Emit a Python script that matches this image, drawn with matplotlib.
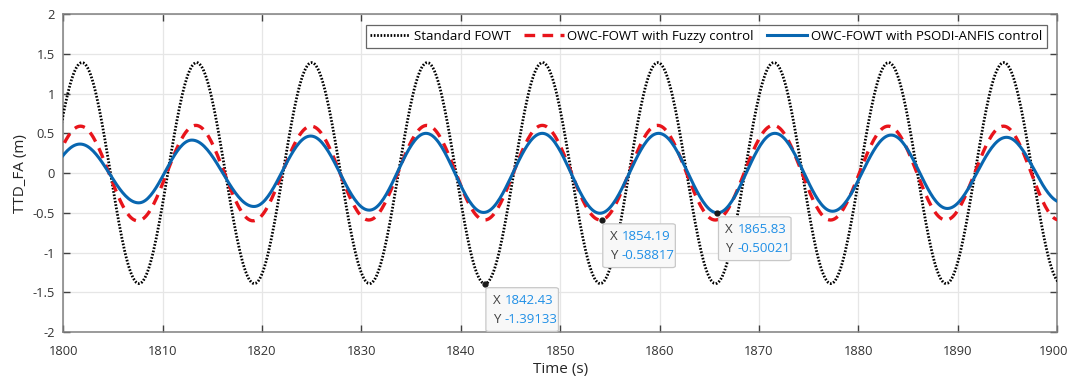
import numpy as np
import matplotlib
matplotlib.use("Agg")
import matplotlib.pyplot as plt
import matplotlib.transforms as mtransforms
from matplotlib.patches import FancyBboxPatch

# Extrema (time, value): troughs and peaks alternate
std_t = [1796.03, 1801.9, 1807.63, 1813.43, 1819.23, 1825.0, 1830.83, 1836.63, 1842.43,
         1848.23, 1854.03, 1859.83, 1865.63, 1871.5, 1877.23, 1883.05, 1888.83, 1894.63, 1900.43]
std_v = [-1.39, 1.39, -1.39, 1.39, -1.39, 1.39, -1.39, 1.39, -1.39133,
         1.39, -1.39, 1.39, -1.39, 1.39, -1.39, 1.39, -1.39, 1.39, -1.39]

fuz_t = [1795.9, 1801.75, 1807.5, 1813.35, 1819.1, 1824.95, 1830.75, 1836.6, 1842.4,
         1848.2, 1854.05, 1859.8, 1865.6, 1871.45, 1877.2, 1883.0, 1888.8, 1894.6, 1900.2]
fuz_v = [-0.59, 0.59, -0.60, 0.60, -0.60, 0.59, -0.59, 0.60, -0.59,
         0.60, -0.59, 0.60, -0.59, 0.60, -0.59, 0.59, -0.59, 0.59, -0.59]

pso_t = [1796.0, 1801.7, 1807.6, 1812.95, 1819.2, 1824.9, 1830.8, 1836.5, 1842.3,
         1848.2, 1854.0, 1859.9, 1865.83, 1871.6, 1877.4, 1883.3, 1888.95, 1894.9, 1900.5]
pso_v = [-0.33, 0.365, -0.374, 0.415, -0.42, 0.466, -0.466, 0.50, -0.495,
         0.50, -0.505, 0.50, -0.50021, 0.50, -0.48, 0.478, -0.445, 0.45, -0.37]

labels = ["Standard FOWT", "OWC-FOWT with Fuzzy control", "OWC-FOWT with PSODI-ANFIS control"]

tips = [(1842.43, -1.39133), (1854.19, -0.58817), (1865.83, -0.50021)]

x_ticks = list(range(1800, 1901, 10))
y_ticks = [2, 1.5, 1, 0.5, 0, -0.5, -1, -1.5, -2]
y_ticklabels = ["2", "1.5", "1", "0.5", "0", "-0.5", "-1", "-1.5", "-2"]


def curve(ts, vs, n=40):
    xs, ys = [], []
    for i in range(len(ts) - 1):
        t0, t1, v0, v1 = ts[i], ts[i + 1], vs[i], vs[i + 1]
        s = np.linspace(0, 1, n, endpoint=False)
        xs.append(t0 + s * (t1 - t0))
        ys.append((v0 + v1) / 2 + (v0 - v1) / 2 * np.cos(np.pi * s))
    xs.append([ts[-1]])
    ys.append([vs[-1]])
    return np.concatenate(xs), np.concatenate(ys)


plt.rcParams['font.family'] = ['Open Sans', 'DejaVu Sans']
fig = plt.figure(figsize=(10.7, 3.8), dpi=100)
ax = fig.add_axes([0.059, 0.126, 0.929, 0.837])

x1, y1 = curve(std_t, std_v)
x2, y2 = curve(fuz_t, fuz_v)
x3, y3 = curve(pso_t, pso_v)
ax.plot(x1, y1, color='black', lw=2.0, linestyle=(0, (0.6, 0.6)), label=labels[0], zorder=3)
ax.plot(x2, y2, color='#e8141b', lw=2.4, linestyle=(0, (3.2, 2.2)), label=labels[1], zorder=4)
ax.plot(x3, y3, color='#0866b0', lw=2.2, label=labels[2], zorder=5)

ax.set_xlim(1800, 1900)
ax.set_ylim(-2, 2)
ax.set_xticks(x_ticks)
ax.set_yticks(y_ticks)
ax.set_yticklabels(y_ticklabels)
ax.grid(True, color='#e6e6e6', lw=0.9)
ax.set_axisbelow(True)
ax.tick_params(direction='in', top=True, right=True, length=5, width=1,
               colors='#404040', labelsize=9.3, labelcolor='#333333')
ax.tick_params(axis='x', pad=9)
ax.tick_params(axis='y', pad=6)
for sp in ax.spines.values():
    sp.set_color('#808080')
    sp.set_linewidth(1.1)
ax.set_xlabel('Time (s)', fontsize=11, color='#262626', labelpad=3)
ax.set_ylabel('TTD_FA (m)', fontsize=11, color='#262626', labelpad=3)

# keep the last x tick label inside the canvas
fig.canvas.draw()
last = ax.get_xticklabels()[-1]
last.set_transform(last.get_transform() +
                   mtransforms.ScaledTranslation(-4 / 100, 0, fig.dpi_scale_trans))

leg = ax.legend(loc='upper right', ncol=3, fontsize=9.5, frameon=True, fancybox=False,
                edgecolor='#404040', handlelength=3.0, handletextpad=0.3,
                columnspacing=1.0, borderpad=0.35, bbox_to_anchor=(0.996, 0.985))
leg.get_frame().set_linewidth(0.9)

# data tips
box_w, box_h = 7.3, 0.55
for (tx, ty) in tips:
    ax.plot([tx], [ty], 'o', color='#1a1a1a', ms=3.5, zorder=7)
    bx, by = tx + 0.1, ty - 0.05 - box_h
    box = FancyBboxPatch((bx, by), box_w, box_h,
                         boxstyle='round,pad=0,rounding_size=0.3',
                         mutation_aspect=0.07,
                         fc='#f8f8f8', ec='#c8c8c8', lw=0.9, zorder=8)
    ax.add_patch(box)
    ax.text(bx + 0.7, by + box_h * 0.70, 'X', fontsize=9.5, color='#404040', va='center', zorder=9)
    ax.text(bx + 1.9, by + box_h * 0.70, f'{tx:.2f}', fontsize=9.5, color='#1f8fe6', va='center', zorder=9)
    ax.text(bx + 0.7, by + box_h * 0.28, 'Y', fontsize=9.5, color='#404040', va='center', zorder=9)
    ax.text(bx + 1.9, by + box_h * 0.28, f'{ty:.5f}',
            fontsize=9.5, color='#1f8fe6', va='center', zorder=9)

fig.savefig('out.png', dpi=100)
